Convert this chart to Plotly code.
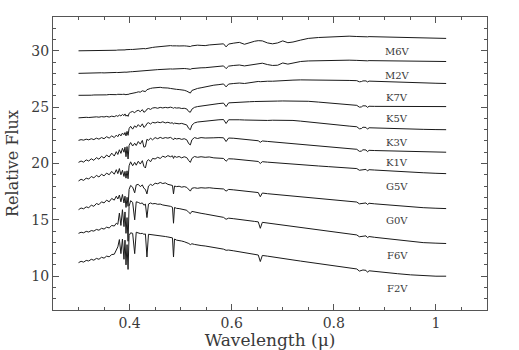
import plotly.graph_objects as go

# Common wavelength grid (microns)
wavelength = [
    0.300, 0.305, 0.310, 0.315, 0.320, 0.325, 0.330, 0.335, 0.340, 0.345,
    0.350, 0.355, 0.360, 0.365, 0.370, 0.374, 0.377, 0.380, 0.383, 0.386,
    0.389, 0.391, 0.393, 0.395, 0.397, 0.399, 0.402, 0.406, 0.410, 0.413,
    0.417, 0.421, 0.425, 0.428, 0.431, 0.434, 0.437, 0.441, 0.445, 0.450,
    0.455, 0.460, 0.465, 0.470, 0.475, 0.480, 0.484, 0.486, 0.488, 0.492,
    0.497, 0.502, 0.507, 0.512, 0.516, 0.519, 0.522, 0.527, 0.533, 0.540,
    0.548, 0.556, 0.565, 0.575, 0.584, 0.589, 0.594, 0.604, 0.615, 0.625,
    0.635, 0.645, 0.652, 0.656, 0.660, 0.670, 0.680, 0.690, 0.700, 0.710,
    0.720, 0.735, 0.750, 0.770, 0.790, 0.810, 0.830, 0.845, 0.850, 0.854,
    0.857, 0.863, 0.866, 0.869, 0.880, 0.900, 0.925, 0.950, 0.975, 1.000,
    1.020,
]

flux_M6V = [
    30.00, 30.00, 30.01, 30.00, 30.01, 30.02, 30.01, 30.02, 30.03, 30.02,
    30.04, 30.03, 30.05, 30.04, 30.06, 30.05, 30.07, 30.06, 30.08, 30.07,
    30.09, 30.08, 30.10, 30.09, 30.10, 30.11, 30.12, 30.12, 30.14, 30.15,
    30.17, 30.16, 30.19, 30.20, 30.18, 30.22, 30.24, 30.27, 30.30, 30.33,
    30.36, 30.40, 30.42, 30.45, 30.43, 30.46, 30.44, 30.45, 30.43, 30.44,
    30.43, 30.45, 30.44, 30.42, 30.36, 30.38, 30.44, 30.48, 30.50, 30.48,
    30.46, 30.52, 30.56, 30.60, 30.62, 30.35, 30.60, 30.68, 30.75, 30.58,
    30.74, 30.85, 30.90, 30.92, 30.88, 30.70, 30.62, 30.70, 30.88, 30.72,
    30.78, 30.95, 31.10, 31.18, 31.22, 31.28, 31.30, 31.27, 31.25, 31.26,
    31.27, 31.26, 31.24, 31.26, 31.25, 31.22, 31.20, 31.17, 31.14, 31.12,
    31.10,
]
flux_M2V = [
    28.00, 28.01, 28.00, 28.02, 28.01, 28.03, 28.02, 28.04, 28.03, 28.05,
    28.04, 28.06, 28.05, 28.07, 28.06, 28.08, 28.07, 28.09, 28.08, 28.10,
    28.09, 28.11, 28.10, 28.12, 28.11, 28.13, 28.14, 28.15, 28.16, 28.17,
    28.18, 28.17, 28.20, 28.21, 28.20, 28.23, 28.25, 28.27, 28.29, 28.31,
    28.33, 28.35, 28.36, 28.38, 28.37, 28.39, 28.38, 28.39, 28.38, 28.40,
    28.40, 28.42, 28.43, 28.41, 28.34, 28.36, 28.42, 28.45, 28.47, 28.49,
    28.50, 28.54, 28.58, 28.62, 28.66, 28.42, 28.64, 28.70, 28.74, 28.66,
    28.74, 28.84, 28.90, 28.93, 28.90, 28.78, 28.70, 28.72, 28.92, 28.82,
    28.90, 29.05, 29.10, 29.13, 29.15, 29.17, 29.17, 29.15, 29.13, 29.14,
    29.14, 29.13, 29.11, 29.13, 29.12, 29.11, 29.10, 29.08, 29.07, 29.06,
    29.05,
]
flux_K7V = [
    26.05, 26.04, 26.06, 26.05, 26.07, 26.06, 26.08, 26.07, 26.09, 26.08,
    26.10, 26.09, 26.12, 26.10, 26.13, 26.11, 26.14, 26.12, 26.16, 26.13,
    26.15, 26.12, 26.10, 26.14, 26.12, 26.17, 26.20, 26.24, 26.22, 26.30,
    26.36, 26.33, 26.45, 26.40, 26.38, 26.55, 26.62, 26.66, 26.70, 26.74,
    26.78, 26.76, 26.72, 26.74, 26.70, 26.66, 26.62, 26.64, 26.60, 26.58,
    26.56, 26.55, 26.50, 26.42, 26.30, 26.25, 26.48, 26.58, 26.66, 26.72,
    26.80, 26.88, 26.95, 27.00, 27.06, 26.80, 27.05, 27.10, 27.14, 27.10,
    27.18, 27.24, 27.28, 27.26, 27.28, 27.30, 27.30, 27.34, 27.38, 27.36,
    27.40, 27.42, 27.42, 27.42, 27.41, 27.40, 27.37, 27.35, 27.25, 27.27,
    27.33, 27.33, 27.24, 27.31, 27.29, 27.25, 27.22, 27.18, 27.15, 27.12,
    27.10,
]
flux_K5V = [
    24.05, 24.08, 24.06, 24.10, 24.08, 24.12, 24.10, 24.14, 24.11, 24.16,
    24.13, 24.18, 24.12, 24.20, 24.15, 24.25, 24.18, 24.30, 24.22, 24.35,
    24.25, 24.40, 24.20, 24.30, 24.18, 24.45, 24.55, 24.62, 24.50, 24.65,
    24.72, 24.60, 24.78, 24.55, 24.62, 24.82, 24.88, 24.80, 24.92, 24.96,
    24.90, 24.98, 24.93, 24.98, 24.94, 25.00, 24.95, 24.90, 24.96, 24.92,
    24.94, 24.88, 24.90, 24.84, 24.60, 24.55, 24.82, 24.98, 25.05, 25.10,
    25.18, 25.22, 25.28, 25.32, 25.36, 25.05, 25.38, 25.42, 25.45, 25.47,
    25.48, 25.50, 25.50, 25.48, 25.50, 25.52, 25.53, 25.54, 25.55, 25.55,
    25.55, 25.54, 25.52, 25.45, 25.38, 25.30, 25.22, 25.16, 25.00, 25.02,
    25.12, 25.11, 24.98, 25.08, 25.07, 25.06, 25.05, 25.06, 25.05, 25.06,
    25.05,
]
flux_K3V = [
    22.05, 22.12, 22.07, 22.16, 22.10, 22.20, 22.12, 22.25, 22.16, 22.30,
    22.20, 22.38, 22.25, 22.45, 22.30, 22.52, 22.38, 22.62, 22.45, 22.70,
    22.55, 22.75, 22.45, 22.85, 22.50, 23.10, 23.30, 23.05, 23.35, 23.20,
    23.45, 23.25, 23.52, 23.20, 23.30, 23.55, 23.62, 23.50, 23.65, 23.60,
    23.68, 23.62, 23.70, 23.60, 23.66, 23.58, 23.62, 23.50, 23.58, 23.55,
    23.52, 23.56, 23.48, 23.42, 23.10, 23.00, 23.40, 23.60, 23.68, 23.72,
    23.78, 23.82, 23.85, 23.88, 23.90, 23.55, 23.88, 23.90, 23.88, 23.86,
    23.85, 23.84, 23.83, 23.78, 23.82, 23.82, 23.84, 23.85, 23.85, 23.84,
    23.82, 23.76, 23.68, 23.58, 23.48, 23.40, 23.32, 23.26, 23.08, 23.10,
    23.22, 23.20, 23.05, 23.17, 23.15, 23.12, 23.09, 23.06, 23.03, 23.01,
    23.00,
]
flux_K1V = [
    20.10, 20.22, 20.12, 20.32, 20.22, 20.42, 20.28, 20.52, 20.38, 20.64,
    20.48, 20.75, 20.58, 20.92, 20.66, 21.05, 20.80, 21.22, 20.90, 21.35,
    21.00, 21.45, 20.60, 21.50, 20.40, 21.60, 21.86, 21.55, 21.80, 21.60,
    21.95, 21.72, 22.05, 21.45, 21.50, 22.15, 22.05, 22.25, 22.10, 22.30,
    22.20, 22.32, 22.22, 22.30, 22.25, 22.32, 22.20, 22.10, 22.25, 22.18,
    22.22, 22.14, 22.20, 22.10, 21.75, 21.65, 22.10, 22.30, 22.22, 22.30,
    22.26, 22.30, 22.28, 22.30, 22.28, 21.95, 22.26, 22.24, 22.20, 22.14,
    22.10, 22.06, 22.02, 21.88, 22.00, 21.96, 21.92, 21.88, 21.84, 21.80,
    21.76, 21.70, 21.64, 21.56, 21.48, 21.40, 21.32, 21.26, 21.08, 21.10,
    21.22, 21.20, 21.05, 21.17, 21.15, 21.12, 21.09, 21.06, 21.03, 21.01,
    21.00,
]
flux_G5V = [
    18.45, 18.60, 18.50, 18.70, 18.62, 18.85, 18.72, 18.95, 18.80, 19.05,
    18.90, 19.15, 19.00, 19.30, 19.05, 19.45, 19.10, 19.55, 19.00, 19.40,
    18.85, 19.30, 18.70, 19.35, 18.65, 19.80, 20.15, 19.80, 20.10, 19.85,
    20.20, 19.95, 20.25, 19.75, 19.60, 20.20, 20.35, 20.15, 20.45, 20.40,
    20.55, 20.45, 20.65, 20.55, 20.70, 20.60, 20.68, 20.45, 20.65, 20.55,
    20.62, 20.50, 20.60, 20.52, 20.25, 20.10, 20.45, 20.62, 20.55, 20.60,
    20.55, 20.58, 20.50, 20.50, 20.45, 20.20, 20.42, 20.40, 20.35, 20.30,
    20.26, 20.22, 20.18, 20.00, 20.16, 20.12, 20.08, 20.05, 20.02, 19.98,
    19.95, 19.90, 19.84, 19.78, 19.72, 19.66, 19.60, 19.55, 19.40, 19.42,
    19.50, 19.48, 19.34, 19.45, 19.42, 19.36, 19.30, 19.24, 19.18, 19.13,
    19.10,
]
flux_G0V = [
    15.90, 16.05, 15.98, 16.15, 16.08, 16.30, 16.20, 16.45, 16.35, 16.60,
    16.50, 16.75, 16.60, 16.90, 16.75, 17.10, 16.85, 17.20, 16.60, 17.25,
    16.50, 17.10, 16.10, 17.00, 16.20, 17.70, 18.05, 17.90, 17.40, 18.10,
    18.15, 17.95, 18.10, 17.80, 17.70, 17.30, 18.00, 18.15, 18.05, 18.25,
    18.20, 18.32, 18.22, 18.28, 18.15, 18.12, 18.05, 17.30, 18.00, 17.95,
    17.98, 17.90, 17.95, 17.88, 17.65, 17.55, 17.80, 17.85, 17.80, 17.85,
    17.82, 17.85, 17.80, 17.78, 17.74, 17.55, 17.70, 17.66, 17.60, 17.55,
    17.50, 17.46, 17.42, 17.05, 17.38, 17.32, 17.28, 17.22, 17.18, 17.14,
    17.10, 17.04, 16.98, 16.88, 16.80, 16.72, 16.64, 16.58, 16.42, 16.44,
    16.52, 16.50, 16.36, 16.47, 16.42, 16.34, 16.26, 16.18, 16.08, 16.03,
    16.00,
]
flux_F6V = [
    13.80, 13.90, 13.85, 13.98, 13.92, 14.05, 14.00, 14.15, 14.08, 14.25,
    14.18, 14.35, 14.28, 14.50, 14.45, 14.70, 14.60, 15.60, 14.50, 15.90,
    14.40, 15.70, 13.80, 15.20, 13.10, 16.20, 16.70, 16.55, 15.00, 16.60,
    16.55, 16.45, 16.50, 16.30, 16.40, 15.20, 16.40, 16.50, 16.42, 16.45,
    16.38, 16.40, 16.32, 16.30, 16.25, 16.20, 16.12, 14.70, 16.10, 16.02,
    16.00, 15.95, 15.90, 15.85, 15.65, 15.55, 15.75, 15.72, 15.65, 15.58,
    15.52, 15.45, 15.38, 15.30, 15.22, 15.05, 15.15, 15.10, 15.02, 14.96,
    14.92, 14.86, 14.82, 14.25, 14.78, 14.72, 14.66, 14.60, 14.55, 14.50,
    14.45, 14.36, 14.28, 14.15, 14.02, 13.90, 13.78, 13.66, 13.50, 13.52,
    13.60, 13.58, 13.42, 13.52, 13.45, 13.34, 13.20, 13.08, 12.98, 12.93,
    12.90,
]
flux_F2V = [
    11.20, 11.32, 11.25, 11.40, 11.35, 11.50, 11.42, 11.58, 11.50, 11.68,
    11.60, 11.78, 11.72, 11.92, 11.95, 12.30, 12.60, 13.25, 12.00, 13.30,
    11.50, 13.20, 11.00, 12.80, 10.60, 13.60, 13.85, 13.80, 12.00, 13.90,
    13.85, 13.78, 13.80, 13.72, 13.75, 11.70, 13.72, 13.70, 13.65, 13.68,
    13.62, 13.60, 13.55, 13.52, 13.48, 13.45, 13.40, 11.70, 13.30, 13.20,
    13.18, 13.12, 13.06, 13.00, 12.90, 12.80, 12.88, 12.82, 12.76, 12.72,
    12.68, 12.62, 12.55, 12.48, 12.40, 12.30, 12.32, 12.25, 12.16, 12.08,
    12.00, 11.93, 11.88, 11.30, 11.84, 11.78, 11.70, 11.63, 11.56, 11.50,
    11.44, 11.34, 11.25, 11.12, 11.00, 10.88, 10.76, 10.64, 10.45, 10.48,
    10.55, 10.52, 10.35, 10.48, 10.42, 10.32, 10.22, 10.12, 10.04, 10.00,
    10.00,
]

star_names = ["M6V", "M2V", "K7V", "K5V", "K3V", "K1V", "G5V", "G0V", "F6V", "F2V"]
star_fluxes = [flux_M6V, flux_M2V, flux_K7V, flux_K5V, flux_K3V,
               flux_K1V, flux_G5V, flux_G0V, flux_F6V, flux_F2V]
label_x = 0.924
label_y = [29.95, 27.85, 25.86, 23.95, 21.9, 20.05, 17.95, 14.9, 11.85, 8.88]

x_tickvals = [0.4, 0.6, 0.8, 1.0]
x_ticktext = ["0.4", "0.6", "0.8", "1"]
y_tickvals = [10, 15, 20, 25, 30]

FONT = "DejaVu Serif"
TXT = "#3a3a3a"

fig = go.Figure()
for name, fl in zip(star_names, star_fluxes):
    fig.add_trace(go.Scatter(x=wavelength, y=fl, mode="lines", name=name,
                             line=dict(color="#1a1a1a", width=1), showlegend=False))

for name, ly in zip(star_names, label_y):
    fig.add_annotation(x=label_x, y=ly, text=name, showarrow=False,
                       font=dict(family=FONT, size=10, color=TXT),
                       xanchor="center", yanchor="middle")

axis_common = dict(showgrid=False, zeroline=False, showline=True, linecolor="#555555",
                   linewidth=1, mirror="ticks", ticks="inside", tickcolor="#555555",
                   ticklen=6, tickwidth=1, automargin=False,
                   tickfont=dict(family=FONT, size=14, color=TXT))

fig.update_xaxes(range=[0.25, 1.1], tickvals=x_tickvals, ticktext=x_ticktext,
                 minor=dict(ticks="inside", dtick=0.05, tick0=0.0, ticklen=3,
                            tickcolor="#555555"),
                 title=dict(text="Wavelength (\u03bc)", font=dict(family=FONT, size=17, color=TXT),
                            standoff=12),
                 **axis_common)
fig.update_yaxes(range=[7, 33], tickvals=y_tickvals,
                 minor=dict(ticks="inside", dtick=1, tick0=0, ticklen=3,
                            tickcolor="#555555"),
                 title=dict(text="Relative Flux", font=dict(family=FONT, size=16, color=TXT),
                            standoff=8),
                 **axis_common)

fig.update_layout(width=519, height=350, margin=dict(l=53, r=32, t=17, b=40),
                  plot_bgcolor="white", paper_bgcolor="white")

fig.write_html("out.html")
